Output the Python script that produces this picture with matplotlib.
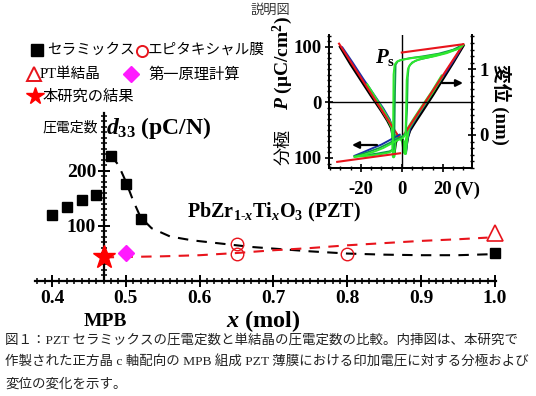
import matplotlib
matplotlib.use("Agg")
import matplotlib.pyplot as plt
from matplotlib.ticker import MultipleLocator, FixedLocator, FixedFormatter

plt.rcParams["mathtext.fontset"] = "custom"
plt.rcParams["mathtext.rm"] = "Liberation Serif:bold"
plt.rcParams["mathtext.it"] = "Liberation Serif:italic:bold"
plt.rcParams["mathtext.bf"] = "Liberation Serif:bold"

SERIF = ["Liberation Serif", "Noto Sans CJK JP"]
JP = ["Noto Sans CJK JP", "DejaVu Sans"]

# ---- main plot: d33 (pC/N) vs Ti content x (mol) ----
ceramic_x = [0.40, 0.42, 0.44, 0.46, 0.48, 0.50, 0.52, 1.00]
ceramic_d33 = [120, 133, 146, 155, 227, 176, 111, 50]
epi_x = [0.65, 0.65, 0.80]
epi_d33 = [67, 48, 48]
pt_x = [1.00]
pt_d33 = [86]
calc_x = [0.50]
calc_d33 = [50]
this_x = [0.47]
this_d33 = [42]

# dashed guide lines
ceramic_guide_x = [0.48, 0.49, 0.50, 0.51, 0.52, 0.535, 0.56, 0.59, 0.63, 0.67,
                   0.71, 0.75, 0.80, 0.85, 0.90, 0.95, 1.00]
ceramic_guide_y = [227, 210, 180, 145, 115, 95, 80, 73, 67, 61,
                   57, 53, 49, 47, 46, 46, 48]
film_guide_x = [0.47, 0.55, 0.60, 0.65, 0.70, 0.75, 0.80, 0.85, 0.90, 0.95, 0.99]
film_guide_y = [42, 44, 46, 50, 55, 59, 64, 68, 72, 75, 78]

x_ticks = [0.4, 0.5, 0.6, 0.7, 0.8, 0.9, 1.0]
x_ticklabels = ["0.4", "0.5", "0.6", "0.7", "0.8", "0.9", "1.0"]
y_ticks = [100, 200]
y_ticklabels = ["100", "200"]
MPB_X = 0.47

# ---- inset: polarization (uC/cm2) and displacement (nm) vs voltage (V) ----
loop_a_desc_v = [30, 27.7, 20, 11.3, 5, 1.6, -1, -2.4, -3.5, -4.0, -4.2, -4.5, -6, -10, -16, -23]
loop_a_desc_p = [104, 97, 88, 82.6, 80, 77.8, 76, 73.5, 68, 50, -40, -86, -90, -93, -96, -98]
loop_a_asc_v = [-23, -18, -13, -9, -5, -2, 0.5, 1.8, 2.1, 2.4, 3, 4, 6.5, 10, 16.3, 22, 27.7, 30]
loop_a_asc_p = [-98, -94, -88, -82, -74, -68, -64, -58, -20, 40, 60, 68, 75, 79, 83.6, 89, 97, 104]

loop_b_desc_v = [30, 25, 18, 10, 4, 0, -2, -3.0, -3.3, -3.6, -4.0, -6, -12, -18, -23]
loop_b_desc_p = [104, 95, 88, 83, 80, 77, 74, 68, 20, -60, -84, -88, -92, -95, -97]
loop_b_asc_v = [-23, -17, -11, -6, -3, 0, 2.0, 2.6, 2.9, 3.4, 5, 8, 14, 20, 26, 30]
loop_b_asc_p = [-97, -90, -82, -73, -67, -62, -55, -10, 45, 64, 72, 77, 82, 88, 96, 104]

loop_c_asc_v = [-23, -19, -14, -10, -6, -3, -1]
loop_c_asc_p = [-96, -90, -82, -76, -68, -62, -58]

fit_top_v = [0, 30]
fit_top_p = [90, 105]
fit_bot_v = [-31.5, -0.8]
fit_bot_p = [-107, -91.5]
fit_disp_left_v = [-30.6, -1.3]
fit_disp_left = [1.39, -0.035]
fit_disp_right_v = [0.2, 30]
fit_disp_right = [-0.035, 1.38]

bf_black_v = [-30, -25, -20, -15, -10, -7, -5, -4.2, -3.8, -3.0, -2, -1,
              0.5, 1.2, 1.8, 2.3, 3, 4, 6, 10, 15, 20, 25, 30]
bf_black_d = [1.34, 1.08, 0.84, 0.60, 0.37, 0.22, 0.10, -0.05, -0.30, -0.12, -0.02, -0.03,
              -0.08, -0.20, -0.26, -0.15, -0.02, 0.07, 0.17, 0.36, 0.60, 0.85, 1.10, 1.36]
bf_blue_v = [-29, -24, -19, -14, -9, -6, -4.6, -4.0, -3.4, -2, -0.5,
             0.8, 1.5, 2.0, 2.6, 4, 7, 12, 17, 22, 27, 29.5]
bf_blue_d = [1.33, 1.10, 0.86, 0.63, 0.40, 0.24, 0.12, -0.28, -0.08, 0.0, -0.03,
             -0.12, -0.24, -0.28, -0.08, 0.10, 0.26, 0.50, 0.75, 0.98, 1.22, 1.36]
bf_green_v = [-17, -13, -9, -6, -4.5, -4.0, -3.4, -2.5, -1.0,
              0.5, 1.2, 1.7, 2.2, 3.2, 6, 10, 15, 19.5]
bf_green_d = [0.76, 0.56, 0.36, 0.20, 0.10, -0.33, -0.10, 0.0, -0.02,
              -0.10, -0.25, -0.28, -0.10, 0.10, 0.24, 0.43, 0.66, 0.89]

RED = "#e8141c"
LGREEN = "#2ee82e"
DGREEN = "#0f9a4a"
BLUE = "#1a2ea8"

W, H = 536, 396
fig = plt.figure(figsize=(W / 100, H / 100), dpi=100)


def box(x0, y0, x1, y1):
    # pixel box (top-left origin) -> figure fraction rect
    return [x0 / W, 1 - y1 / H, (x1 - x0) / W, (y1 - y0) / H]


# ---------------- main axes ----------------
ax = fig.add_axes(box(35, 112.75, 496, 280.5))
ax.set_xlim(0.377, 1.0014)
ax.set_ylim(0, 305)
ax.spines["top"].set_visible(False)
ax.spines["right"].set_visible(False)
ax.spines["left"].set_position(("data", MPB_X))
for s in ("left", "bottom"):
    ax.spines[s].set_linewidth(1.6)

ax.plot(ceramic_guide_x, ceramic_guide_y, "--", color="k", lw=1.5, dashes=(5, 4), zorder=2)
ax.plot(film_guide_x, film_guide_y, "--", color=RED, lw=1.5, dashes=(5, 4), zorder=2)
ax.plot(ceramic_x, ceramic_d33, "s", color="k", ms=7, zorder=4, clip_on=False)
ax.plot(epi_x, epi_d33, "o", mfc="none", mec=RED, mew=1.0, ms=9, zorder=4)
ax.plot(pt_x, pt_d33, "^", mfc="none", mec=RED, mew=1.2, ms=12, zorder=4, clip_on=False)
ax.plot(calc_x, calc_d33, "D", color="#ff1aff", ms=8.5, zorder=4)
ax.plot(this_x, this_d33, "*", color="#ff0000", ms=17, zorder=5, clip_on=False)

ax.xaxis.set_major_locator(FixedLocator(x_ticks))
ax.xaxis.set_major_formatter(FixedFormatter(x_ticklabels))
ax.xaxis.set_minor_locator(MultipleLocator(0.01))
ax.yaxis.set_major_locator(FixedLocator(y_ticks))
ax.yaxis.set_major_formatter(FixedFormatter(y_ticklabels))
ax.yaxis.set_minor_locator(MultipleLocator(10))
ax.tick_params(which="major", direction="inout", length=9, width=1.4)
ax.tick_params(which="minor", direction="inout", length=5, width=1.1)
ax.tick_params(axis="x", which="major", pad=2)
ax.tick_params(axis="y", which="major", pad=1)
for lab in ax.get_xticklabels() + ax.get_yticklabels():
    lab.set_fontfamily(SERIF)
    lab.set_fontweight("bold")
    lab.set_fontsize(14)

# ---------------- inset ----------------
ins = fig.add_axes(box(329, 35, 472.3, 168.3))
ins.set_xlim(-35.5, 34.4)
ins.set_ylim(-118.6, 121.6)
ins.patch.set_alpha(0)
ins.spines["top"].set_visible(False)
ins.axhline(0, color="k", lw=1.0, zorder=1)
ins.axvline(0, color="k", lw=1.0, zorder=1)

ins2 = ins.twinx()
ins2.set_ylim(-0.507, 1.522)
ins2.spines["top"].set_visible(False)

# displacement butterflies (right axis)
ins2.plot(bf_black_v, bf_black_d, color="k", lw=2.0, zorder=2)
ins2.plot(bf_blue_v, bf_blue_d, color=BLUE, lw=1.6, zorder=3)
ins2.plot(bf_green_v, bf_green_d, color=LGREEN, lw=2.4, zorder=4)
ins2.plot(fit_disp_left_v, fit_disp_left, color=RED, lw=1.5, zorder=6)
ins2.plot(fit_disp_right_v, fit_disp_right, color=RED, lw=1.5, zorder=6)

# polarization loops (left axis)
ins.plot(loop_c_asc_v, loop_c_asc_p, color=BLUE, lw=1.4, zorder=3)
ins.plot(loop_b_desc_v, loop_b_desc_p, color=DGREEN, lw=1.3, zorder=3)
ins.plot(loop_b_asc_v, loop_b_asc_p, color=DGREEN, lw=1.3, zorder=3)
ins.plot(loop_a_desc_v, loop_a_desc_p, color=LGREEN, lw=1.4, zorder=4)
ins.plot(loop_a_asc_v, loop_a_asc_p, color=LGREEN, lw=1.4, zorder=4)
ins.plot(fit_top_v, fit_top_p, color=RED, lw=1.5, zorder=5)
ins.plot(fit_bot_v, fit_bot_p, color=RED, lw=1.5, zorder=5)
ins.set_zorder(ins2.get_zorder() + 1)

ins.xaxis.set_major_locator(FixedLocator([-20, 0, 20]))
ins.xaxis.set_major_formatter(FixedFormatter(["-20", "0", "20"]))
ins.xaxis.set_minor_locator(MultipleLocator(5))
ins.yaxis.set_major_locator(FixedLocator([-100, 0, 100]))
ins.yaxis.set_major_formatter(FixedFormatter(["100", "0", "100"]))
ins.yaxis.set_minor_locator(MultipleLocator(10))
ins2.yaxis.set_major_locator(FixedLocator([0, 1]))
ins2.yaxis.set_major_formatter(FixedFormatter(["0", "1"]))
ins2.yaxis.set_minor_locator(MultipleLocator(0.1))
for a in (ins, ins2):
    for s in a.spines.values():
        s.set_linewidth(1.3)
    a.tick_params(which="major", direction="inout", length=6, width=1.2, pad=2)
    a.tick_params(which="minor", direction="inout", length=3.5, width=1.0)
ins.tick_params(axis="x", which="major", pad=6)
for lab in ins.get_xticklabels() + ins.get_yticklabels() + ins2.get_yticklabels():
    lab.set_fontfamily(SERIF)
    lab.set_fontweight("bold")
    lab.set_fontsize(13.5)

# ---------------- overlay for text and annotations (pixel coords) ----------------
ov = fig.add_axes([0, 0, 1, 1], zorder=10)
ov.set_xlim(0, W)
ov.set_ylim(H, 0)
ov.axis("off")

ov.text(270, 10, "説明図", family=JP, fontsize=9.5, color="#333333", ha="center", va="center")

# legend
ov.plot(37, 50, "s", color="k", ms=8)
ov.text(47, 50, "セラミックス", family=JP, fontsize=10.5, ha="left", va="center")
ov.plot(142, 51, "o", mfc="none", mec=RED, mew=1.4, ms=8)
ov.text(148, 50, "エピタキシャル膜", family=JP, fontsize=10.5, ha="left", va="center")
ov.plot(34, 74, "^", mfc="none", mec=RED, mew=1.4, ms=10)
ov.text(40, 74, "PT単結晶", family=SERIF, fontsize=10.5, ha="left", va="center")
ov.plot(131, 74, "D", color="#ff1aff", ms=8)
ov.text(148, 74, "第一原理計算", family=JP, fontsize=11, ha="left", va="center")
ov.plot(35, 96, "*", color="#ff0000", ms=13)
ov.text(43, 96, "本研究の結果", family=JP, fontsize=11, ha="left", va="center")

# main axis labels
ov.text(42, 128, "圧電定数", family=JP, fontsize=10, ha="left", va="center")
ov.text(106, 128, r"$d_{33}$ (pC/N)", family=SERIF, weight="bold", fontsize=17,
        ha="left", va="center")
ov.text(187, 212, r"PbZr$_{1\text{-}x}$Ti$_{x}$O$_{3}$ (PZT)", family=SERIF,
        weight="bold", fontsize=14.5, ha="left", va="center")
ov.text(105, 321, "MPB", family=SERIF, weight="bold", fontsize=14, ha="center", va="center")
ov.text(263, 321, r"$x$ (mol)", family=SERIF, weight="bold", fontsize=17.5, ha="center", va="center")

# inset labels
ov.text(283, 147, "分極", family=JP, fontsize=13, rotation=90, ha="center", va="center")
ov.text(283, 63, r"$P$ (μC/cm$^{2}$)", family=SERIF, weight="bold", fontsize=14,
        rotation=90, ha="center", va="center")
ov.text(501, 104, "変位 (nm)", family=SERIF, weight="bold", fontsize=13.5,
        rotation=-90, ha="center", va="center")
ov.text(467, 190, "(V)", family=SERIF, weight="bold", fontsize=13.5, ha="center", va="center")
ov.text(385, 57, r"$P_{\mathrm{s}}$", fontsize=15, ha="center", va="center")
ov.annotate("", xy=(352, 145), xytext=(377, 145),
            arrowprops=dict(arrowstyle="-|>", color="k", lw=1.6, mutation_scale=10,
                            shrinkA=0, shrinkB=0))
ov.annotate("", xy=(463, 83), xytext=(442, 83),
            arrowprops=dict(arrowstyle="-|>", color="k", lw=1.6, mutation_scale=10,
                            shrinkA=0, shrinkB=0))

# caption
caption = [
    "図１：PZT セラミックスの圧電定数と単結晶の圧電定数の比較。内挿図は、本研究で",
    "作製された正方晶 c 軸配向の MPB 組成 PZT 薄膜における印加電圧に対する分極および",
    "変位の変化を示す。",
]
for i, line in enumerate(caption):
    ov.text(5, 340 + 22 * i, line, family=SERIF, fontsize=9.7, ha="left", va="center",
            color="#222222")

fig.savefig("out.png", dpi=100)
